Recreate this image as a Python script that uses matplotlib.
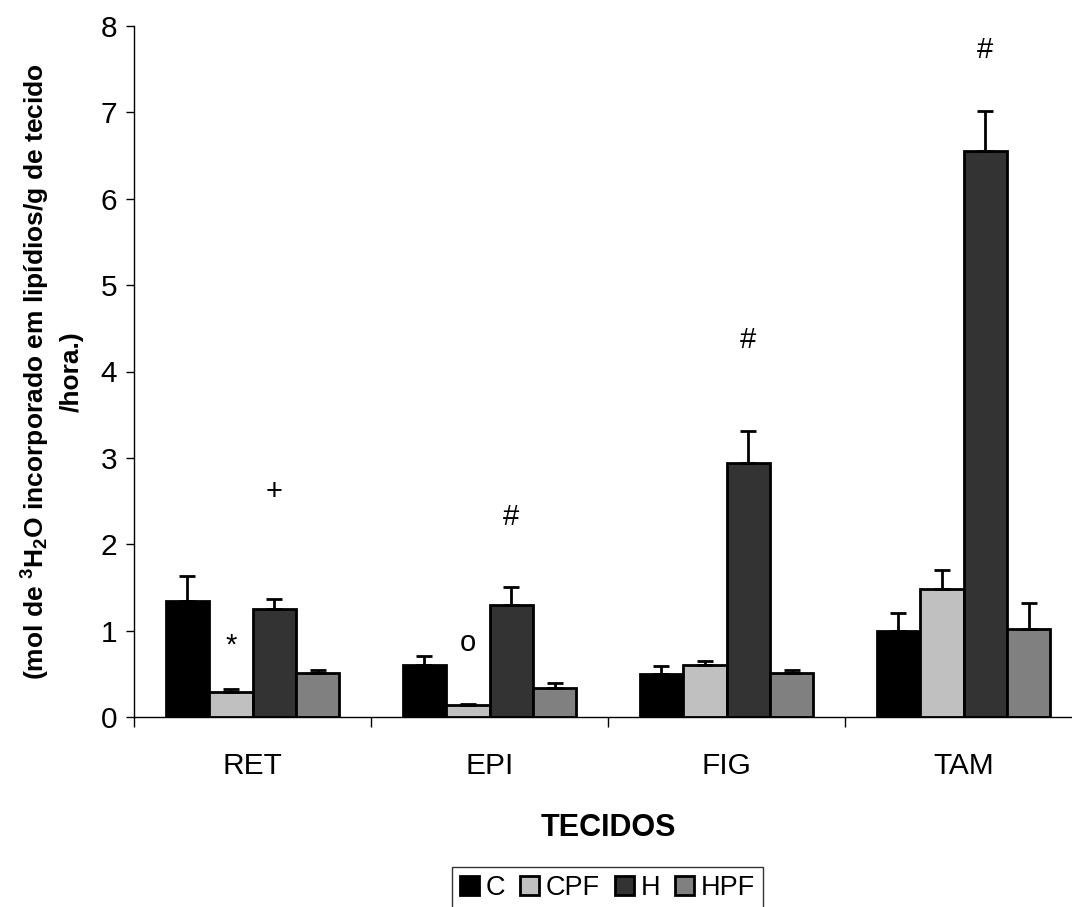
import matplotlib
matplotlib.use("Agg")
import matplotlib.pyplot as plt
import numpy as np

plt.rcParams['font.family'] = ['Liberation Sans', 'DejaVu Sans']
plt.rcParams['mathtext.fontset'] = 'custom'
plt.rcParams['mathtext.bf'] = 'Liberation Sans:bold'
plt.rcParams['mathtext.rm'] = 'Liberation Sans'
plt.rcParams['mathtext.default'] = 'bf'

categories = ["RET", "EPI", "FIG", "TAM"]
groups = ["C", "CPF", "H", "HPF"]
values = {
    "C":   [1.34, 0.60, 0.50, 0.99],
    "CPF": [0.29, 0.14, 0.60, 1.48],
    "H":   [1.25, 1.30, 2.94, 6.55],
    "HPF": [0.51, 0.33, 0.51, 1.02],
}
errors = {
    "C":   [0.29, 0.11, 0.09, 0.21],
    "CPF": [0.03, 0.01, 0.05, 0.22],
    "H":   [0.12, 0.20, 0.37, 0.47],
    "HPF": [0.03, 0.06, 0.03, 0.30],
}
colors = {"C": "#000000", "CPF": "#c0c0c0", "H": "#333333", "HPF": "#808080"}
# significance marks: (category, group, label, y)
marks_cat = ["RET", "RET", "EPI", "EPI", "FIG", "TAM"]
marks_grp = ["CPF", "H", "CPF", "H", "H", "H"]
marks_lbl = ["*", "+", "o", "#", "#", "#"]
marks_y = [0.83, 2.6, 0.86, 2.31, 4.36, 7.72]

fig = plt.figure(figsize=(10.72, 9.07), dpi=100)
ax = fig.add_axes([134/1072, 190/907, 948/1072, 691/907])

x = np.arange(len(categories))
bw = 0.183
offsets = (np.arange(len(groups)) - 1.5) * bw
for i, g in enumerate(groups):
    ax.bar(x + offsets[i], values[g], bw, color=colors[g], edgecolor='black',
           linewidth=2.0, label=g, zorder=2)
    ax.errorbar(x + offsets[i], values[g], yerr=[np.zeros(4), errors[g]],
                fmt='none', ecolor='black', elinewidth=2.0, capsize=6,
                capthick=2.0, zorder=3)

for c, g, lbl, yv in zip(marks_cat, marks_grp, marks_lbl, marks_y):
    xi = categories.index(c) + offsets[groups.index(g)]
    ax.text(xi, yv, lbl, ha='center', va='center', fontsize=21)

ax.set_xlim(-0.5, 3.5)
ax.set_ylim(0, 8)
ax.set_yticks(range(0, 9))
ax.tick_params(axis='y', labelsize=21.5, length=6, width=1, direction='out', pad=6)
ax.set_xticks(x)
ax.set_xticklabels(categories)
ax.set_xticks(np.arange(-0.5, 3.5, 1), minor=True)
ax.tick_params(axis='x', which='major', length=0, labelsize=21.5, pad=25)
ax.tick_params(axis='x', which='minor', length=7, width=1, direction='out')
for s in ['top', 'right']:
    ax.spines[s].set_visible(False)
ax.spines['left'].set_linewidth(1)
ax.spines['bottom'].set_linewidth(1)

ax.set_xlabel("TECIDOS", fontsize=22, fontweight='bold', labelpad=24)
ax.set_ylabel("(mol de $^3$H$_2$O incorporado em lipídios/g de tecido\n/hora.)",
              fontsize=19, fontweight='bold', labelpad=12, linespacing=1.4)

leg = fig.legend(loc='upper left', bbox_to_anchor=(452/1072, 1 - 867/907),
                 ncol=4, fontsize=19.5, frameon=True, fancybox=False,
                 edgecolor='black', handlelength=0.7, handleheight=0.7,
                 handletextpad=0.25, columnspacing=0.55, borderpad=0.3,
                 borderaxespad=0)
leg.get_frame().set_linewidth(1)

fig.savefig("out.png", dpi=100)
